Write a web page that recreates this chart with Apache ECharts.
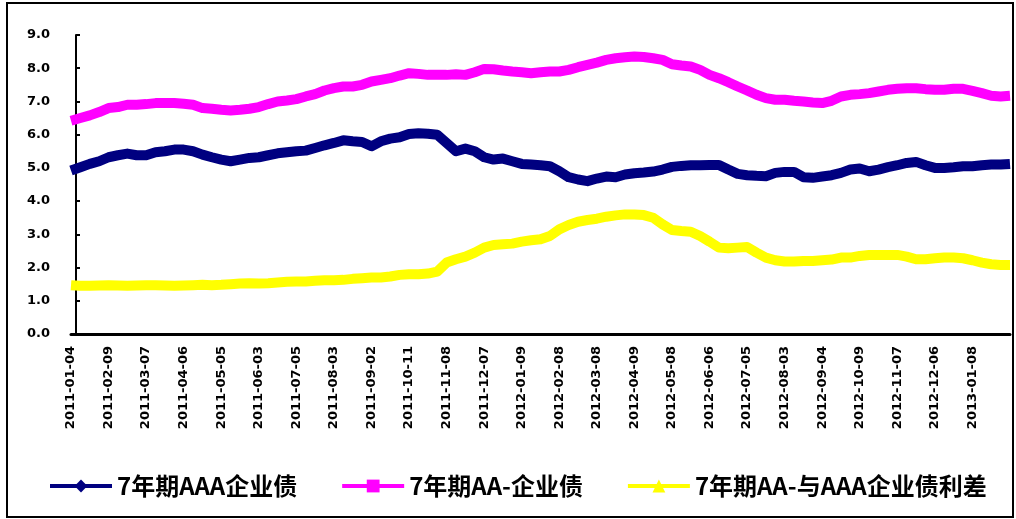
<!DOCTYPE html>
<html>
<head>
<meta charset="utf-8">
<script src="https://cdn.jsdelivr.net/npm/echarts@6/dist/echarts.min.js"></script>
<style>
  html, body { margin: 0; padding: 0; background: #fff; }
  #chart { width: 1016px; height: 519px; }
</style>
</head>
<body>
<div id="chart"></div>
<script>
// Date labels shown under every 4th observation
const tickLabels = [
  '2011-01-04', '2011-02-09', '2011-03-07', '2011-04-06', '2011-05-05',
  '2011-06-03', '2011-07-05', '2011-08-03', '2011-09-02', '2011-10-11',
  '2011-11-08', '2011-12-07', '2012-01-09', '2012-02-08', '2012-03-08',
  '2012-04-09', '2012-05-08', '2012-06-06', '2012-07-05', '2012-08-03',
  '2012-09-04', '2012-10-09', '2012-11-07', '2012-12-06', '2013-01-08'
];

const seriesNames = ['7年期AAA企业债', '7年期AA-企业债', '7年期AA-与AAA企业债利差'];

// 7-year AAA enterprise bond yield (%)
const aaaYield = [
  4.92, 5.02, 5.12, 5.20, 5.32, 5.38, 5.43, 5.38, 5.38, 5.47,
  5.50, 5.55, 5.55, 5.50, 5.40, 5.32, 5.25, 5.20, 5.25, 5.30,
  5.32, 5.38, 5.44, 5.47, 5.50, 5.52, 5.60, 5.68, 5.75, 5.83,
  5.80, 5.78, 5.65, 5.80, 5.88, 5.92, 6.02, 6.04, 6.03, 6.00,
  5.75, 5.50, 5.58, 5.50, 5.32, 5.25, 5.28, 5.20, 5.12, 5.10,
  5.08, 5.05, 4.90, 4.72, 4.65, 4.60, 4.68, 4.74, 4.72, 4.80,
  4.84, 4.86, 4.89, 4.95, 5.03, 5.06, 5.08, 5.08, 5.09, 5.09,
  4.95, 4.82, 4.78, 4.76, 4.75, 4.85, 4.88, 4.88, 4.72, 4.70,
  4.74, 4.78, 4.85, 4.95, 4.98, 4.90, 4.95, 5.02, 5.08, 5.15,
  5.18, 5.08, 5.00, 5.00, 5.02, 5.05, 5.05, 5.08, 5.10, 5.10,
  5.12
];

// 7-year AA- enterprise bond yield (%)
const aaMinusYield = [
  6.42, 6.50, 6.58, 6.68, 6.80, 6.83, 6.90, 6.90, 6.92, 6.95,
  6.95, 6.95, 6.93, 6.90, 6.80, 6.78, 6.75, 6.73, 6.75, 6.78,
  6.83, 6.92, 7.00, 7.03, 7.07, 7.15, 7.22, 7.33, 7.40, 7.45,
  7.45, 7.50, 7.60, 7.65, 7.70, 7.78, 7.85, 7.83, 7.80, 7.80,
  7.80, 7.82, 7.80, 7.88, 7.98, 7.97, 7.93, 7.90, 7.88, 7.85,
  7.88, 7.90, 7.90, 7.95, 8.03, 8.10, 8.17, 8.25, 8.30, 8.33,
  8.35, 8.34, 8.30, 8.25, 8.12, 8.08, 8.05, 7.95, 7.80, 7.70,
  7.58, 7.45, 7.33, 7.20, 7.10, 7.05, 7.05, 7.02, 7.00, 6.97,
  6.95, 7.02, 7.15, 7.20, 7.22, 7.25, 7.30, 7.35, 7.38, 7.40,
  7.40, 7.37, 7.35, 7.35, 7.38, 7.38, 7.32, 7.25, 7.17, 7.15,
  7.17
];

// Spread between AA- and AAA (percentage points)
const creditSpread = [
  1.47, 1.45, 1.45, 1.46, 1.47, 1.46, 1.45, 1.46, 1.47, 1.47,
  1.46, 1.45, 1.46, 1.47, 1.48, 1.47, 1.48, 1.50, 1.52, 1.53,
  1.52, 1.53, 1.55, 1.57, 1.58, 1.58, 1.60, 1.62, 1.62, 1.63,
  1.66, 1.68, 1.70, 1.70, 1.73, 1.78, 1.80, 1.80, 1.82, 1.88,
  2.15, 2.25, 2.33, 2.45, 2.60, 2.68, 2.70, 2.72, 2.78, 2.82,
  2.85, 2.95, 3.15, 3.28, 3.38, 3.43, 3.47, 3.53, 3.57, 3.60,
  3.60, 3.58, 3.50, 3.30, 3.13, 3.10, 3.08, 2.95, 2.78, 2.60,
  2.58, 2.60, 2.62, 2.45, 2.30, 2.22, 2.18, 2.18, 2.20, 2.20,
  2.22, 2.24, 2.30, 2.30, 2.35, 2.38, 2.38, 2.38, 2.38, 2.33,
  2.25, 2.25, 2.28, 2.30, 2.30, 2.28, 2.22, 2.15, 2.10, 2.08,
  2.08
];

const labelsPerTick = 4;
const lastIndex = aaaYield.length - 1;

const chart = echarts.init(document.getElementById('chart'), null, { renderer: 'canvas' });

function lineSeries(name, values, color, symbol) {
  return {
    name: name,
    type: 'line',
    data: values.map((v, i) => [i, v]),
    symbol: symbol,
    symbolSize: 10,
    showSymbol: false,
    smooth: false,
    animation: false,
    lineStyle: { color: color, width: 10, cap: 'butt', join: 'round' },
    itemStyle: { color: color }
  };
}

chart.setOption({
  backgroundColor: '#ffffff',
  animation: false,
  grid: { left: 71, right: 6, top: 35, bottom: 185 },
  xAxis: {
    type: 'value',
    min: 0,
    max: lastIndex,
    interval: labelsPerTick,
    axisLine: { show: true, onZero: false, lineStyle: { color: '#000', width: 3 } },
    axisTick: { show: false },
    splitLine: { show: false },
    axisLabel: {
      rotate: 90,
      margin: 12,
      color: '#000',
      fontFamily: 'DejaVu Sans',
      fontWeight: 'bold',
      fontSize: 13,
      showMaxLabel: false,
      formatter: v => tickLabels[v / labelsPerTick] || ''
    }
  },
  yAxis: {
    type: 'value',
    min: 0,
    max: 9,
    interval: 1,
    offset: -5,
    axisLine: { show: true, lineStyle: { color: '#000', width: 2 } },
    axisTick: { show: true, inside: true, length: 4, lineStyle: { color: '#000', width: 2 } },
    splitLine: { show: false },
    axisLabel: {
      margin: 26,
      color: '#000',
      fontFamily: 'DejaVu Sans',
      fontWeight: 'bold',
      fontSize: 13,
      formatter: v => v.toFixed(1)
    }
  },
  legend: {
    left: 48,
    top: 474,
    padding: 0,
    itemGap: 43,
    itemWidth: 62,
    itemHeight: 16,
    lineStyle: { width: 4 },
    textStyle: {
      color: '#000',
      fontFamily: 'Noto Sans CJK SC',
      fontWeight: 'bold',
      fontSize: 24,
      padding: [0, 0, 0, 0]
    },
    data: seriesNames
  },
  graphic: [{
    type: 'rect',
    shape: { x: 7, y: 3, width: 1006, height: 514 },
    style: { fill: 'none', stroke: '#000', lineWidth: 2 },
    silent: true,
    z: 100
  }],
  series: [
    lineSeries(seriesNames[0], aaaYield, '#000080', 'diamond'),
    lineSeries(seriesNames[1], aaMinusYield, '#ff00ff', 'rect'),
    lineSeries(seriesNames[2], creditSpread, '#ffff00', 'triangle')
  ]
});
</script>
</body>
</html>
